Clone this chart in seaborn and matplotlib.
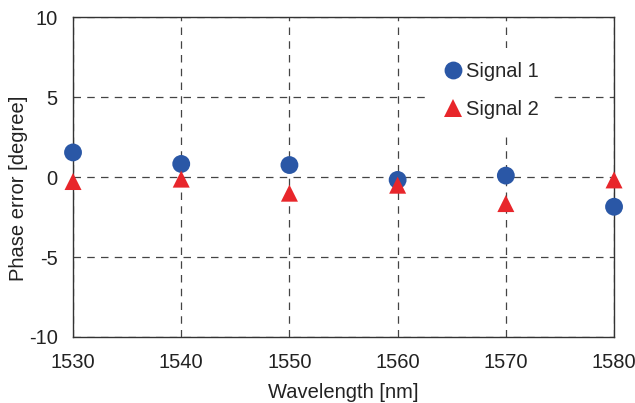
import matplotlib
matplotlib.use("Agg")
import matplotlib.pyplot as plt
import pandas as pd
import seaborn as sns

# data
wavelength = [1530, 1540, 1550, 1560, 1570, 1580]
signal_1 = [1.55, 0.83, 0.76, -0.17, 0.1, -1.85]
signal_2 = [-0.27, -0.12, -1.0, -0.5, -1.65, -0.17]
series_names = ["Signal 1", "Signal 2"]
y_ticks = [-10, -5, 0, 5, 10]

df = pd.DataFrame({
    "Wavelength": wavelength * 2,
    "Phase": signal_1 + signal_2,
    "Series": [series_names[0]] * len(wavelength) + [series_names[1]] * len(wavelength),
})

sns.set_theme(style="white")
plt.rcParams["font.family"] = ["Liberation Sans", "DejaVu Sans"]
plt.rcParams["axes.unicode_minus"] = False

fig = plt.figure(figsize=(6.35, 4.03), dpi=100)
ax = fig.add_axes([0.115, 0.1638, 0.852, 0.793])

sns.scatterplot(
    data=df, x="Wavelength", y="Phase",
    hue="Series", style="Series", size="Series",
    palette={"Signal 1": "#2a57a6", "Signal 2": "#e8262b"},
    markers={"Signal 1": "o", "Signal 2": "^"},
    sizes={"Signal 1": 165, "Signal 2": 150},
    linewidth=0, ax=ax, clip_on=False, zorder=3,
)

ax.set_xlim(1530, 1580)
ax.set_ylim(-10, 10)
ax.set_xticks(wavelength)
ax.set_yticks(y_ticks)
ax.grid(True, color="#444444", linestyle=(0, (6, 5)), linewidth=0.9)
ax.set_axisbelow(True)

for side in ["left", "bottom", "right", "top"]:
    ax.spines[side].set_visible(True)
    ax.spines[side].set_color("#333333")
    ax.spines[side].set_linewidth(1.0)

ax.tick_params(axis="both", labelsize=14.5, length=0, colors="#222222")
ax.tick_params(axis="x", pad=11.5)
ax.tick_params(axis="y", pad=11)
ax.set_xlabel("Wavelength [nm]", fontsize=14.5, color="#222222")
ax.set_ylabel("Phase error [degree]", fontsize=14.5, color="#222222")
ax.xaxis.set_label_coords(0.5, -0.145)
ax.yaxis.set_label_coords(-0.083, 0.466)

leg = ax.legend(
    loc="upper left", bbox_to_anchor=(0.66, 0.905), fontsize=14.5,
    frameon=True, facecolor="white", edgecolor="white", framealpha=1,
    handlelength=0.9, handletextpad=0.2, labelspacing=0.95, borderpad=0.7,
    borderaxespad=0, title=None,
)
leg.get_frame().set_linewidth(0)

fig.savefig("out.png", dpi=100)
